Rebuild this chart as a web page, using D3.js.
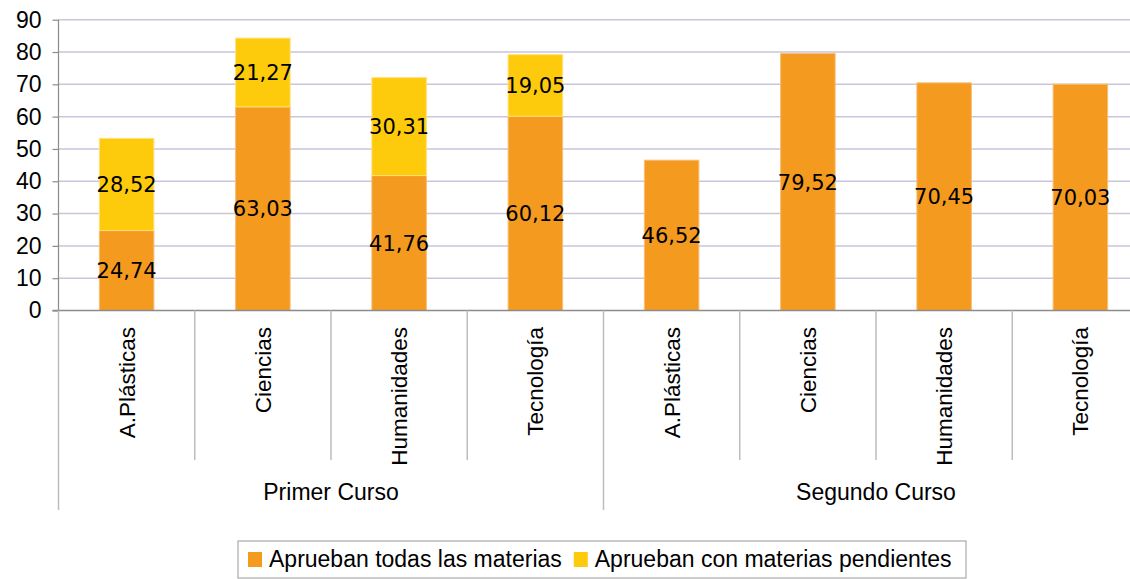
<!DOCTYPE html>
<html>
<head>
<meta charset="utf-8">
<script src="https://cdn.jsdelivr.net/npm/d3@7/dist/d3.min.js"></script>
<style>
  html, body { margin: 0; padding: 0; background: #fff; }
  svg { display: block; }
</style>
</head>
<body>
<svg id="chart" width="1130" height="579"></svg>
<script>
// ---- data ----
const groups = ["Primer Curso", "Segundo Curso"];
const subjects = ["A.Plásticas", "Ciencias", "Humanidades", "Tecnología"];
const seriesNames = ["Aprueban todas las materias", "Aprueban con materias pendientes"];
const apruebanTodas = [24.74, 63.03, 41.76, 60.12, 46.52, 79.52, 70.45, 70.03];
const apruebanPendientes = [28.52, 21.27, 30.31, 19.05, null, null, null, null];
const yTicks = [0, 10, 20, 30, 40, 50, 60, 70, 80, 90];

// ---- styles ----
const colors = ["#F39A1F", "#FECB0C"];
const strokes = ["#F8BE75", "#FFE07A"];

const svg = d3.select("#chart");
const W = 1130;
const plotLeft = 58.5, plotRight = 1148.5, yTop = 19.7, yBottom = 310.5;

const cats = [];
groups.forEach((g, gi) => subjects.forEach((s, si) => cats.push({key: g + "|" + s, group: g, subject: s, idx: gi * subjects.length + si})));

const x = d3.scaleBand().domain(cats.map(c => c.key)).range([plotLeft, plotRight]).padding(0);
const y = d3.scaleLinear().domain([0, 90]).range([yBottom, yTop]);
const barW = x.bandwidth() * 0.4;

const locale = d3.formatLocale({decimal: ",", thousands: ".", grouping: [3], currency: ["", "€"]});
const fmt = locale.format(".2f");

// gridlines
svg.append("g").selectAll("line").data(yTicks.filter(t => t > 0)).join("line")
  .attr("x1", plotLeft).attr("x2", W)
  .attr("y1", d => y(d)).attr("y2", d => y(d))
  .attr("stroke", "#C9C5DB").attr("stroke-width", 1.5);

// stacked bars
const stackData = cats.map((c, i) => ({key: c.key, s0: apruebanTodas[i] || 0, s1: apruebanPendientes[i] || 0}));
const stack = d3.stack().keys(["s0", "s1"])(stackData);

const barsG = svg.append("g");
stack.forEach((layer, li) => {
  barsG.append("g").selectAll("rect").data(layer.filter(d => d[1] - d[0] > 0)).join("rect")
    .attr("x", d => x(d.data.key) + (x.bandwidth() - barW) / 2)
    .attr("width", barW)
    .attr("y", d => y(d[1]))
    .attr("height", d => y(d[0]) - y(d[1]))
    .attr("fill", colors[li])
    .attr("stroke", strokes[li]).attr("stroke-width", 1);
});

// data labels
stack.forEach((layer, li) => {
  svg.append("g").selectAll("text").data(layer.filter(d => d[1] - d[0] > 0)).join("text")
    .attr("x", d => x(d.data.key) + x.bandwidth() / 2)
    .attr("y", d => y((d[0] + d[1]) / 2))
    .attr("dy", "0.36em")
    .attr("text-anchor", "middle")
    .attr("font-family", "DejaVu Sans")
    .attr("font-size", 21)
    .attr("fill", "#000")
    .text(d => fmt(d[1] - d[0]));
});

// y axis
const yAxis = d3.axisLeft(y).tickValues(yTicks).tickSize(6).tickPadding(11).tickFormat(d3.format("d"));
const yG = svg.append("g").attr("transform", `translate(${plotLeft},0)`).call(yAxis);
yG.select(".domain").remove();
yG.selectAll(".tick line").attr("stroke", "#8C8C8C").attr("stroke-width", 1.2);
yG.selectAll(".tick text").attr("font-family", "Liberation Sans").attr("font-size", 23).attr("fill", "#000");

// axis lines
svg.append("line").attr("x1", plotLeft).attr("x2", plotLeft).attr("y1", yTop).attr("y2", yBottom)
  .attr("stroke", "#8C8C8C").attr("stroke-width", 1.2);
svg.append("line").attr("x1", plotLeft - 6).attr("x2", W).attr("y1", yBottom).attr("y2", yBottom)
  .attr("stroke", "#8C8C8C").attr("stroke-width", 1.5);

// category separators
const bounds = cats.map(c => x(c.key)).concat([plotRight]);
svg.append("g").selectAll("line").data(bounds).join("line")
  .attr("x1", d => d).attr("x2", d => d)
  .attr("y1", yBottom)
  .attr("y2", (d, i) => (i % subjects.length === 0) ? 510 : 460)
  .attr("stroke", "#BDBDBD").attr("stroke-width", 1.5);

// category labels (rotated)
svg.append("g").selectAll("text").data(cats).join("text")
  .attr("transform", d => `translate(${x(d.key) + x.bandwidth() / 2},327) rotate(-90)`)
  .attr("dy", "0.36em")
  .attr("text-anchor", "end")
  .attr("font-family", "Liberation Sans")
  .attr("font-size", 22.5)
  .attr("fill", "#000")
  .text(d => d.subject);

// group labels
svg.append("g").selectAll("text").data(groups).join("text")
  .attr("x", (g, gi) => (bounds[gi * subjects.length] + bounds[(gi + 1) * subjects.length]) / 2)
  .attr("y", 500)
  .attr("text-anchor", "middle")
  .attr("font-family", "Liberation Sans")
  .attr("font-size", 23)
  .attr("fill", "#000")
  .text(g => g);

// legend
const legend = svg.append("g");
legend.append("rect").attr("x", 238).attr("y", 541).attr("width", 728).attr("height", 37)
  .attr("fill", "#fff").attr("stroke", "#AAAAAA").attr("stroke-width", 1.2);
let lx = 248;
seriesNames.forEach((name, i) => {
  legend.append("rect").attr("x", lx).attr("y", 552).attr("width", 14).attr("height", 15)
    .attr("fill", colors[i]);
  const t = legend.append("text").attr("x", lx + 21).attr("y", 567)
    .attr("font-family", "Liberation Sans").attr("font-size", 23).attr("fill", "#000").text(name);
  lx += 21 + t.node().getComputedTextLength() + 12;
});
</script>
</body>
</html>
